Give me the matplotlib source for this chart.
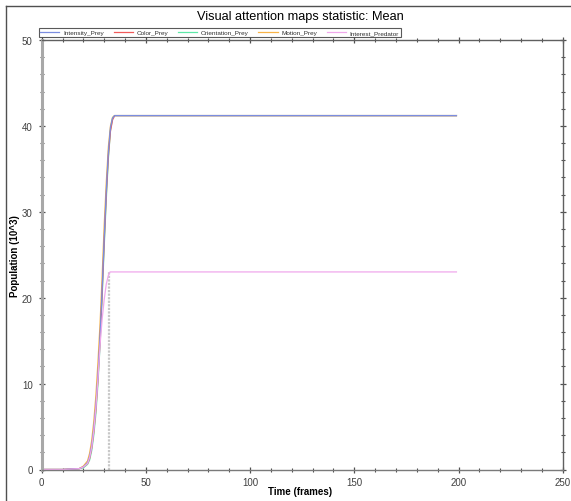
import matplotlib
matplotlib.use("Agg")
import matplotlib.pyplot as plt
from matplotlib.lines import Line2D

plt.rcParams['font.family'] = ['Liberation Sans', 'DejaVu Sans']

# ---- data ----
labels = ["Intensity_Prey", "Color_Prey", "Orientation_Prey", "Motion_Prey", "Interest_Predator"]
colors = ["#7b8de0", "#f05a5a", "#5ee8a8", "#f8b448", "#f0a8ec"]

frames_prey = [0, 10, 18, 20, 22, 23, 24, 25, 26, 27, 28, 29, 30, 31, 32, 33, 34, 35, 199]
intensity = [0, 0, 0.1, 0.3, 0.8, 1.5, 2.8, 4.8, 7.5, 11.0, 15.5, 21.0, 27.0, 32.5, 37.0, 39.8, 40.9, 41.2, 41.2]
color_p = [0, 0, 0.1, 0.3, 0.7, 1.3, 2.5, 4.4, 7.0, 10.5, 15.0, 20.5, 26.5, 32.0, 36.5, 39.4, 40.7, 41.2, 41.2]
orientation = [0, 0, 0.1, 0.2, 0.6, 1.1, 2.2, 4.0, 6.5, 10.0, 14.5, 20.0, 26.0, 31.5, 36.2, 39.5, 40.9, 41.2, 41.2]
motion = [0, 0, 0.1, 0.4, 1.0, 1.9, 3.4, 5.6, 8.6, 12.5, 17.0, 22.5, 28.5, 33.5, 37.6, 40.0, 41.0, 41.2, 41.2]

frames_pred = [0, 10, 18, 20, 22, 23, 24, 25, 26, 27, 28, 29, 30, 31, 32, 32.8, 199]
interest = [0, 0, 0.1, 0.3, 0.7, 1.4, 2.6, 4.5, 7.2, 10.6, 14.5, 17.5, 19.8, 21.6, 22.6, 23.0, 23.0]

marker_frame = [32.3, 32.3]
marker_values = [0, 23.0]

xticks_major = [0, 50, 100, 150, 200, 250]
yticks_major = [0, 10, 20, 30, 40, 50]

W, H = 571, 502
fig = plt.figure(figsize=(W / 100, H / 100), dpi=100)
ax = fig.add_axes([41.7 / W, 1 - 470.5 / H, (562.7 - 41.7) / W, (470.5 - 41) / H])

series = [intensity, color_p, orientation, motion]
ax.plot(marker_frame, marker_values, color="#c8c8c8", lw=1.6, ls=(0, (1, 0.6)), zorder=1)
for vals, c, lab in zip(series[::-1], colors[:4][::-1], labels[:4][::-1]):
    ax.plot(frames_prey, vals, color=c, lw=0.9, label=lab, zorder=2)
ax.plot(frames_pred, interest, color=colors[4], lw=0.9, label=labels[4], zorder=2)

ax.set_xlim(0, 250)
ax.set_ylim(0, 50)
ax.set_xticks(xticks_major)
ax.set_yticks(yticks_major)
ax.set_xticks(range(0, 251, 10), minor=True)
ax.set_yticks(range(0, 51, 2), minor=True)
ax.tick_params(which='both', direction='inout', top=True, right=True,
               labeltop=False, labelright=False, colors="#505050",
               labelcolor="#404040", labelsize=7)
ax.tick_params(which='major', length=5, width=0.9)
ax.tick_params(which='minor', length=3, width=0.8)
ax.tick_params(axis='x', pad=3)
ax.tick_params(axis='y', pad=4)

ax.spines['left'].set_color("#a8a8a8")
ax.spines['left'].set_linewidth(2.2)
ax.spines['bottom'].set_color("#7a7a7a")
ax.spines['bottom'].set_linewidth(1.0)
ax.spines['top'].set_color("#606060")
ax.spines['right'].set_color("#606060")
ax.spines['top'].set_linewidth(1.0)
ax.spines['right'].set_linewidth(1.0)

ax.set_xlabel("Time (frames)", fontsize=7, fontweight='bold')
ax.set_ylabel("Population (10^3)", fontsize=7, fontweight='bold')
ax.xaxis.set_label_coords(300 / W, 1 - 492 / H, transform=fig.transFigure)
ax.yaxis.set_label_coords(15 / W, 1 - 256 / H, transform=fig.transFigure)
ax.xaxis.label.set_va('center')
ax.yaxis.label.set_va('center')

fig.suptitle("Visual attention maps statistic: Mean", fontsize=9.2, x=300 / W, y=1 - 11 / H, va='top')

handles, labs = ax.get_legend_handles_labels()
order = [labs.index(l) for l in labels]
leg = ax.legend([handles[i] for i in order], [labs[i] for i in order], ncol=5,
                loc='lower left', bbox_to_anchor=(39 / W, 1 - 37.5 / H), bbox_transform=fig.transFigure,
                fontsize=4.6, frameon=True, fancybox=False, borderpad=0.2, handlelength=3.0,
                handletextpad=0.6, columnspacing=1.5, borderaxespad=0, labelspacing=0)
leg.get_frame().set_edgecolor("#303030")
leg.get_frame().set_linewidth(0.8)
for t in leg.get_texts():
    t.set_color("#303030")

# figure border
fig.add_artist(Line2D([6 / W, 6 / W], [0, 1 - 7 / H], transform=fig.transFigure, color="#505050", lw=1.0))
fig.add_artist(Line2D([6 / W, 1], [1 - 7 / H, 1 - 7 / H], transform=fig.transFigure, color="#505050", lw=1.0))

fig.savefig("out.png", dpi=100)
